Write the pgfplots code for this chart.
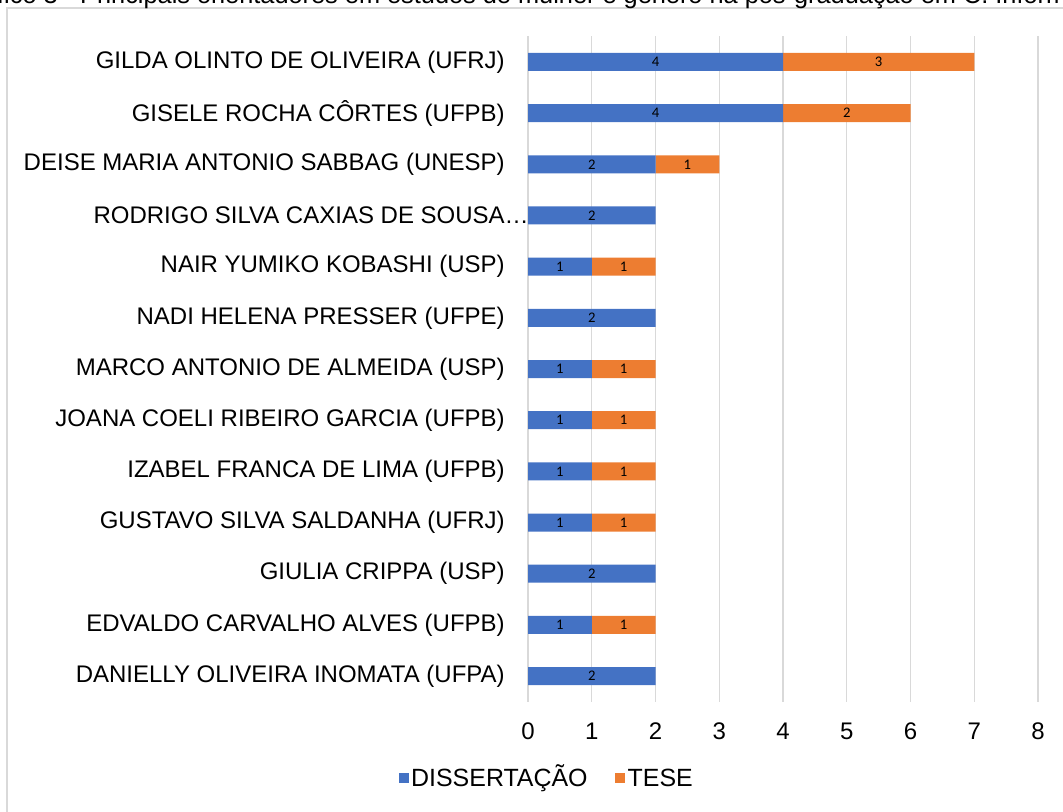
\documentclass[border=0pt]{standalone}
\usepackage{fontspec}
\setmainfont{Liberation Sans}
\newfontfamily\carlito{Carlito}
\usepackage{pgfplots}
\pgfplotsset{compat=1.18}
\definecolor{cblue}{HTML}{4472C4}
\definecolor{corange}{HTML}{ED7D31}
\definecolor{cgrid}{HTML}{D9D9D9}
\begin{document}
\begin{tikzpicture}
\useasboundingbox (0,0) rectangle (797.25pt,-609pt);
\clip (0,0) rectangle (797.25pt,-609pt);
\draw[cgrid, line width=1pt] (5.25pt,-6pt) rectangle (820pt,-640pt);
\node[anchor=base west, inner sep=0pt, font=\fontsize{19}{21}\selectfont] at (60pt,-3pt) {\llap{Gráfico 3 - }Principais orientadores em estudos de mulher e gênero na pós-graduação em C. Informação};
\begin{axis}[
  at={(396pt,-526.2pt)}, anchor=south west, scale only axis,
  width=382.5pt, height=498.9pt,
  xbar stacked, bar width=13.5pt,
  xmin=0, xmax=8, ymin=-0.5, ymax=12.5,
  axis line style={draw=none}, tick style={draw=none},
  xmajorgrids, grid style={cgrid, line width=0.9pt},
  xtick={0,1,...,8}, ytick={0,1,...,12},
  yticklabels={DANIELLY OLIVEIRA INOMATA (UFPA), EDVALDO CARVALHO ALVES (UFPB), GIULIA CRIPPA (USP), GUSTAVO SILVA SALDANHA (UFRJ), IZABEL FRANCA DE LIMA (UFPB), JOANA COELI RIBEIRO GARCIA (UFPB), MARCO ANTONIO DE ALMEIDA (USP), NADI HELENA PRESSER (UFPE), NAIR YUMIKO KOBASHI (USP), RODRIGO SILVA CAXIAS DE SOUSA\rlap{…}, DEISE MARIA ANTONIO SABBAG (UNESP), GISELE ROCHA CÔRTES (UFPB), GILDA OLINTO DE OLIVEIRA (UFRJ)},
  tick label style={font=\fontsize{18}{21}\selectfont},
  /pgf/number format/assume math mode=true,
  yticklabel style={anchor=east, inner sep=0pt, xshift=-17.25pt},
  xticklabel style={anchor=north, inner sep=0pt, yshift=-16pt},
  legend style={at={(0.0373,-0.1179)}, anchor=center, draw=none, fill=none,
    legend columns=2, font=\fontsize{18.7}{21}\selectfont,
    nodes={inner xsep=1.8pt, inner ysep=0pt, text height=14pt, text depth=4pt},
    /tikz/every even column/.append style={column sep=19pt}},
  legend image code/.code={\fill[#1] (0pt,-2.2pt) rectangle (7.5pt,5.3pt);},
]
\addplot[fill=cblue, draw=none] coordinates {(2,0) (1,1) (2,2) (1,3) (1,4) (1,5) (1,6) (2,7) (1,8) (2,9) (2,10) (4,11) (4,12)};
\addplot[fill=corange, draw=none] coordinates {(0,0) (1,1) (0,2) (1,3) (1,4) (1,5) (1,6) (0,7) (1,8) (0,9) (1,10) (2,11) (3,12)};
\legend{DISSERTAÇÃO, TESE}
\end{axis}
\begin{axis}[
  at={(396pt,-526.2pt)}, anchor=south west, scale only axis,
  width=382.5pt, height=498.9pt,
  xmin=0, xmax=8, ymin=-0.5, ymax=12.5, hide axis, clip=false,
]
\addplot[draw=none, mark=none, nodes near coords, point meta=explicit symbolic,
  every node near coord/.style={anchor=center, inner sep=0pt, text=black, font=\carlito\fontsize{11}{13}\selectfont}]
  coordinates {(1,0)[2] (0.5,1)[1] (1.5,1)[1] (1,2)[2] (0.5,3)[1] (1.5,3)[1] (0.5,4)[1] (1.5,4)[1] (0.5,5)[1] (1.5,5)[1] (0.5,6)[1] (1.5,6)[1] (1,7)[2] (0.5,8)[1] (1.5,8)[1] (1,9)[2] (1,10)[2] (2.5,10)[1] (2,11)[4] (5,11)[2] (2,12)[4] (5.5,12)[3]};
\end{axis}
\end{tikzpicture}
\end{document}
